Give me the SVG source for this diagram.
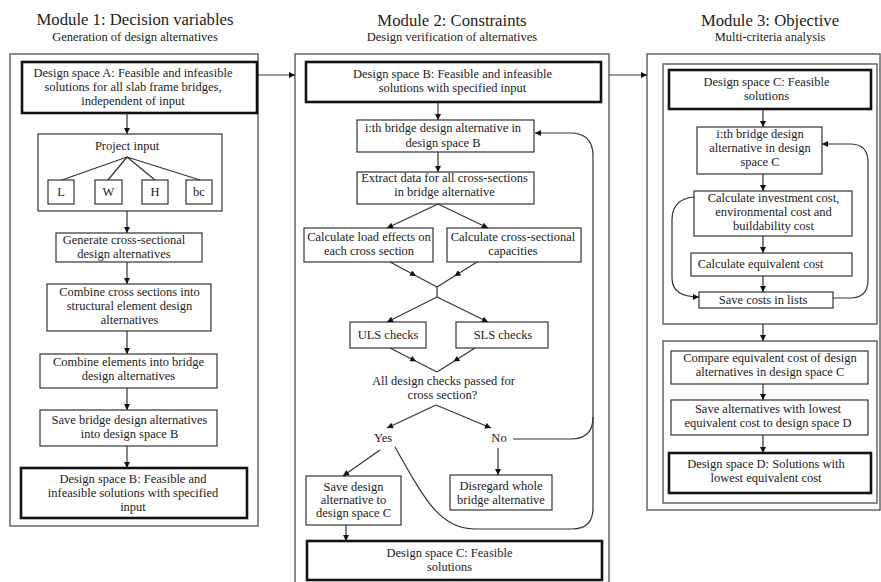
<svg xmlns="http://www.w3.org/2000/svg" width="881" height="582" viewBox="0 0 881 582">
<style>
.box{fill:#fff;stroke:#333;stroke-width:1.2}
.thick{fill:#fff;stroke:#111;stroke-width:2.6}
.mod{fill:#fff;stroke:#666;stroke-width:1.5}
text{font-family:"Liberation Serif","Times New Roman",serif;font-size:12.5px;fill:#222;text-anchor:middle}
.title{font-size:16.7px}
.c{fill:none;stroke:#333;stroke-width:1.2}
.a{marker-end:url(#ah)}
.m{marker-mid:url(#am)}
</style>
<defs>
<marker id="ah" viewBox="0 0 10 10" refX="10" refY="5" markerWidth="7" markerHeight="6" markerUnits="userSpaceOnUse" orient="auto"><path d="M0,0 L10,5 L0,10 z" fill="#111"/></marker>
<marker id="am" viewBox="0 0 10 10" refX="5" refY="5" markerWidth="7" markerHeight="6" markerUnits="userSpaceOnUse" orient="auto"><path d="M0,0 L10,5 L0,10 z" fill="#111"/></marker>
</defs>
<rect width="881" height="582" fill="#fff"/>

<!-- Module frames and titles -->
<g id="module1">
<text class="title" x="135" y="25">Module 1: Decision variables</text>
<text x="135" y="41">Generation of design alternatives</text>
<rect class="mod" x="10" y="54" width="248" height="472"/>
</g>
<g id="module2">
<text class="title" x="452" y="26">Module 2: Constraints</text>
<text x="452" y="41">Design verification of alternatives</text>
<rect class="mod" x="295" y="54" width="314" height="540"/>
</g>
<g id="module3">
<text class="title" x="770" y="26">Module 3: Objective</text>
<text x="770" y="41">Multi-criteria analysis</text>
<rect class="mod" x="647" y="54" width="233" height="456"/>
<rect class="mod" x="663" y="64" width="214" height="260"/>
<rect class="mod" x="663" y="341" width="214" height="162"/>
</g>

<!-- Module 1 nodes -->
<g id="m1-spaceA">
<rect class="thick" x="22" y="62" width="235" height="51"/>
<text x="133" y="77">Design space A: Feasible and infeasible</text>
<text x="133" y="91">solutions for all slab frame bridges,</text>
<text x="133" y="105">independent of input</text>
</g>
<g id="m1-project">
<rect class="box" x="38" y="134" width="184" height="77"/>
<text x="127" y="150">Project input</text>
</g>
<g id="m1-L"><rect class="box" x="48" y="180" width="26" height="24"/><text x="61" y="196">L</text></g>
<g id="m1-W"><rect class="box" x="95" y="180" width="27" height="24"/><text x="108.5" y="196">W</text></g>
<g id="m1-H"><rect class="box" x="142" y="180" width="26" height="24"/><text x="155" y="196">H</text></g>
<g id="m1-bc"><rect class="box" x="186" y="180" width="26" height="24"/><text x="199" y="196">bc</text></g>
<g id="m1-generate">
<rect class="box" x="56" y="233" width="146" height="29"/>
<text x="124" y="244">Generate cross-sectional</text>
<text x="124" y="258">design alternatives</text>
</g>
<g id="m1-combine-cs">
<rect class="box" x="47" y="284" width="164" height="47"/>
<text x="129.5" y="296">Combine cross sections into</text>
<text x="129.5" y="310">structural element design</text>
<text x="129.5" y="324">alternatives</text>
</g>
<g id="m1-combine-el">
<rect class="box" x="40" y="354" width="177" height="34"/>
<text x="128.5" y="366">Combine elements into bridge</text>
<text x="128.5" y="380">design alternatives</text>
</g>
<g id="m1-save">
<rect class="box" x="40" y="410" width="177" height="36"/>
<text x="129.5" y="424">Save bridge design alternatives</text>
<text x="129.5" y="438">into design space B</text>
</g>
<g id="m1-spaceB">
<rect class="thick" x="21" y="468" width="226" height="50"/>
<text x="133" y="483">Design space B: Feasible and</text>
<text x="133" y="497">infeasible solutions with specified</text>
<text x="133" y="511">input</text>
</g>

<!-- Module 2 nodes -->
<g id="m2-spaceB">
<rect class="thick" x="306" y="62" width="295" height="40"/>
<text x="452.5" y="77.5">Design space B: Feasible and infeasible</text>
<text x="452.5" y="92">solutions with specified input</text>
</g>
<g id="m2-ith">
<rect class="box" x="357" y="120" width="177" height="32"/>
<text x="443" y="132">i:th bridge design alternative in</text>
<text x="443" y="146.5">design space B</text>
</g>
<g id="m2-extract">
<rect class="box" x="357" y="172" width="177" height="32"/>
<text x="444.5" y="182">Extract data for all cross-sections</text>
<text x="444.5" y="196">in bridge alternative</text>
</g>
<g id="m2-load">
<rect class="box" x="304" y="228" width="129" height="34"/>
<text x="369" y="241">Calculate load effects on</text>
<text x="369" y="255">each cross section</text>
</g>
<g id="m2-cap">
<rect class="box" x="447" y="228" width="134" height="34"/>
<text x="513" y="241">Calculate cross-sectional</text>
<text x="513" y="255">capacities</text>
</g>
<g id="m2-uls">
<rect class="box" x="350" y="322" width="76" height="26"/>
<text x="388" y="339">ULS checks</text>
</g>
<g id="m2-sls">
<rect class="box" x="456" y="322" width="92" height="26"/>
<text x="503" y="339">SLS checks</text>
</g>
<g id="m2-decision">
<text x="443.5" y="385">All design checks passed for</text>
<text x="442.5" y="399">cross section?</text>
</g>
<g id="m2-yes"><text x="383" y="442">Yes</text></g>
<g id="m2-no"><text x="499" y="442">No</text></g>
<g id="m2-disregard">
<rect class="box" x="450" y="475" width="102" height="35"/>
<text x="501" y="490">Disregard whole</text>
<text x="501" y="504">bridge alternative</text>
</g>
<g id="m2-save">
<rect class="box" x="306" y="476" width="95" height="49"/>
<text x="353.5" y="491">Save design</text>
<text x="353.5" y="504">alternative to</text>
<text x="353.5" y="517">design space C</text>
</g>
<g id="m2-spaceC">
<rect class="thick" x="307" y="541" width="295" height="39"/>
<text x="449.5" y="557">Design space C: Feasible</text>
<text x="449.5" y="571">solutions</text>
</g>

<!-- Module 3 nodes -->
<g id="m3-spaceC">
<rect class="thick" x="669" y="70" width="202" height="39"/>
<text x="766.5" y="86">Design space C: Feasible</text>
<text x="766.5" y="100">solutions</text>
</g>
<g id="m3-ith">
<rect class="box" x="697" y="127" width="125" height="47"/>
<text x="760" y="138">i:th bridge design</text>
<text x="760" y="152">alternative in design</text>
<text x="760" y="166">space C</text>
</g>
<g id="m3-invest">
<rect class="box" x="694" y="191" width="158" height="45"/>
<text x="773.5" y="202">Calculate investment cost,</text>
<text x="773.5" y="216">environmental cost and</text>
<text x="773.5" y="230">buildability cost</text>
</g>
<g id="m3-equiv">
<rect class="box" x="691" y="253" width="161" height="23"/>
<text x="760.5" y="267.5">Calculate equivalent cost</text>
</g>
<g id="m3-savecosts">
<rect class="box" x="699" y="292" width="134" height="16"/>
<text x="763" y="304">Save costs in lists</text>
</g>
<g id="m3-compare">
<rect class="box" x="671" y="351" width="197" height="33"/>
<text x="770" y="362">Compare equivalent cost of design</text>
<text x="770" y="376">alternatives in design space C</text>
</g>
<g id="m3-savealt">
<rect class="box" x="671" y="400" width="197" height="35"/>
<text x="768" y="413">Save alternatives with lowest</text>
<text x="768" y="427">equivalent cost to design space D</text>
</g>
<g id="m3-spaceD">
<rect class="thick" x="669" y="453" width="202" height="40"/>
<text x="766" y="468">Design space D: Solutions with</text>
<text x="766" y="482">lowest equivalent cost</text>
</g>

<!-- Connectors -->
<g id="connectors">
<path class="c a" d="M258,75 L295,75"/>
<path class="c a" d="M609,75 L647,75"/>
<!-- module 1 -->
<path class="c a" d="M127,113 L127,134"/>
<path class="c" d="M127,157 L62,180 M127,157 L108,180 M127,157 L155,180 M127,157 L200,180"/>
<path class="c a" d="M127,211 L127,233"/>
<path class="c a" d="M127,262 L127,284"/>
<path class="c a" d="M127,331 L127,354"/>
<path class="c a" d="M127,388 L127,410"/>
<path class="c a" d="M127,446 L127,468"/>
<!-- module 2 -->
<path class="c a" d="M438,102 L438,120"/>
<path class="c a" d="M438,152 L438,172"/>
<path class="c a" d="M438,204 L387,228"/>
<path class="c a" d="M438,204 L488,228"/>
<path class="c m" d="M390,262 L413.5,274.5 L437,287"/>
<path class="c m" d="M477,262 L457,274.5 L437,287"/>
<path class="c" d="M437,287 L437,297"/>
<path class="c a" d="M437,297 L387,322"/>
<path class="c a" d="M437,297 L488,322"/>
<path class="c m" d="M390,348 L413.5,360 L437,372"/>
<path class="c m" d="M475,348 L456,360 L437,372"/>
<path class="c a" d="M436,405 L387,428"/>
<path class="c a" d="M436,405 L491,428"/>
<path class="c a" d="M498,448 L498,475"/>
<path class="c a" d="M380,450 L343,476"/>
<path class="c a" d="M346,525 L346,541"/>
<path class="c a" d="M513,439 L571,439 Q593,439 593,417 L593,156 Q593,133 570,133 L535,133"/>
<path class="c" d="M395,447 C425,500 440,529 475,529 L572,529 Q593,529 593,508 L593,417"/>
<!-- module 3 -->
<path class="c a" d="M763,109 L763,127"/>
<path class="c a" d="M763,174 L763,191"/>
<path class="c a" d="M763,236 L763,253"/>
<path class="c a" d="M763,276 L763,292"/>
<path class="c a" d="M694,197 Q672,199 672,220 L672,278 Q672,297 699,297"/>
<path class="c a" d="M833,298 L850,298 Q868,298 868,280 L868,162 Q868,144 850,144 L822,144"/>
<path class="c a" d="M763,324 L763,341"/>
<path class="c a" d="M763,384 L763,400"/>
<path class="c a" d="M763,435 L763,453"/>
</g>
</svg>
